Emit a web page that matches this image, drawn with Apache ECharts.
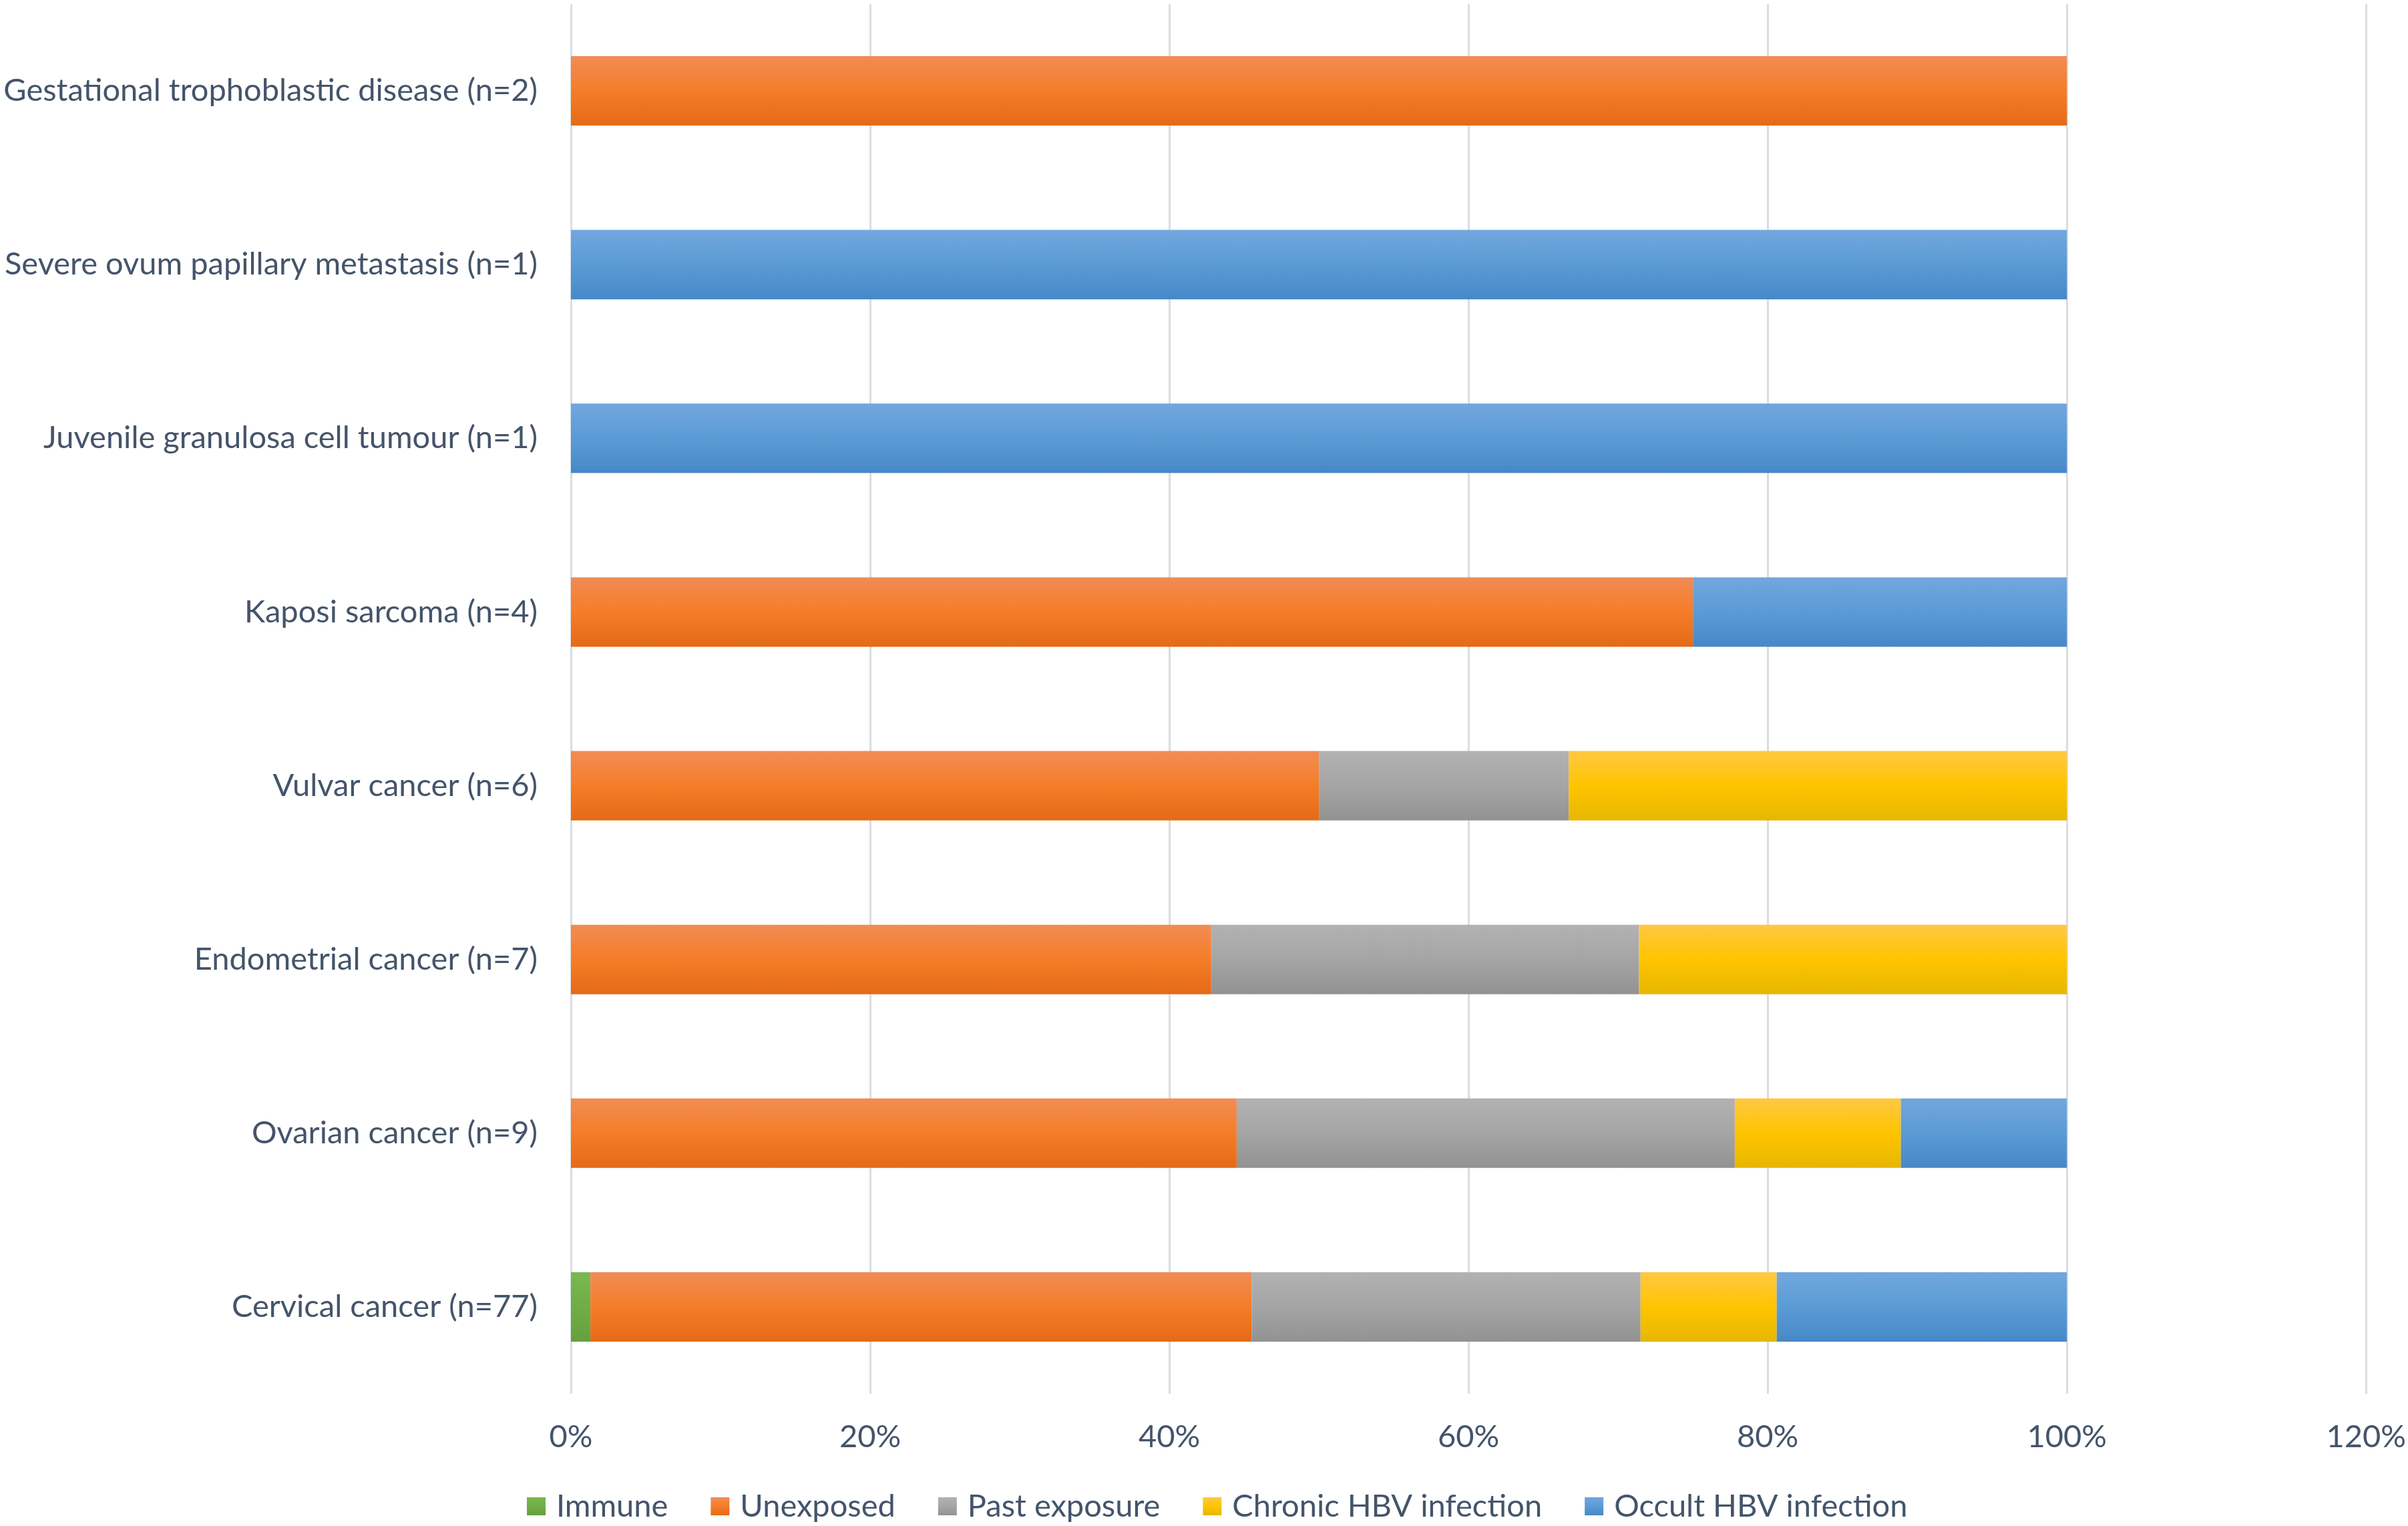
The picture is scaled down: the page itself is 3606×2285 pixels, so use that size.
<!DOCTYPE html>
<html>
<head>
<meta charset="utf-8">
<title>HBV status by cancer type</title>
<script src="https://cdn.jsdelivr.net/npm/echarts@6/dist/echarts.min.js"></script>
<style>
    html, body { margin: 0; padding: 0; background: #fff; }
    #main { width: 3606px; height: 2285px; }
</style>
</head>
<body>
<div id="main"></div>
<script>
// categories, bottom to top
var categories = [
    'Cervical cancer (n=77)',
    'Ovarian cancer (n=9)',
    'Endometrial cancer (n=7)',
    'Vulvar cancer (n=6)',
    'Kaposi sarcoma (n=4)',
    'Juvenile granulosa cell tumour (n=1)',
    'Severe ovum papillary metastasis (n=1)',
    'Gestational trophoblastic disease (n=2)'
];

// share of each group, in percent
var immune      = [1.3, 0, 0, 0, 0, 0, 0, 0];
var unexposed   = [44.2, 44.5, 42.8, 50, 75, 0, 0, 100];
var pastExpo    = [26.0, 33.3, 28.6, 16.7, 0, 0, 0, 0];
var chronicHbv  = [9.1, 11.1, 28.6, 33.3, 0, 0, 0, 0];
var occultHbv   = [19.4, 11.1, 0, 0, 25, 100, 100, 0];

var seriesNames = ['Immune', 'Unexposed', 'Past exposure', 'Chronic HBV infection', 'Occult HBV infection'];
var seriesData = [immune, unexposed, pastExpo, chronicHbv, occultHbv];

// top / middle / bottom of the gradient for each series
var shades = [
    ['#7AB852', '#70AD47', '#66A03E'],
    ['#F18C55', '#F57D28', '#E46A17'],
    ['#B2B2B2', '#A5A5A5', '#929292'],
    ['#FFC843', '#FFC400', '#E6B700'],
    ['#72A7DE', '#5B9BD5', '#4688C8']
];

var textColor = '#44546A';
var fontName = 'Lato';

function grad(c) {
    return new echarts.graphic.LinearGradient(0, 0, 0, 1, [
        { offset: 0, color: c[0] },
        { offset: 0.5, color: c[1] },
        { offset: 1, color: c[2] }
    ]);
}

var myChart = echarts.init(document.getElementById('main'));

var series = [];
for (var i = 0; i < seriesNames.length; i++) {
    series.push({
        name: seriesNames[i],
        type: 'bar',
        stack: 'total',
        barWidth: 104,
        itemStyle: { color: grad(shades[i]) },
        data: seriesData[i]
    });
}

var option = {
    backgroundColor: '#ffffff',
    animation: false,
    textStyle: { fontFamily: fontName },
    grid: {
        left: 855,
        right: 61,
        top: 6,
        bottom: 198,
        containLabel: false
    },
    legend: {
        data: seriesNames,
        left: 784,
        top: 2227,
        icon: 'rect',
        itemWidth: 28,
        itemHeight: 27,
        itemGap: 64,
        textStyle: {
            color: textColor,
            fontSize: 47,
            fontFamily: fontName,
            padding: [0, 0, 0, 11]
        }
    },
    xAxis: {
        type: 'value',
        min: 0,
        max: 120,
        interval: 20,
        axisLine: { show: false },
        axisTick: { show: false },
        axisLabel: {
            formatter: '{value}%',
            color: textColor,
            fontSize: 47,
            fontFamily: fontName,
            margin: 41
        },
        splitLine: {
            show: true,
            lineStyle: { color: '#D9DDE3', width: 3 }
        }
    },
    yAxis: {
        type: 'category',
        data: categories,
        axisLine: { show: false },
        axisTick: { show: false },
        axisLabel: {
            color: textColor,
            fontSize: 47,
            fontFamily: fontName,
            margin: 50
        }
    },
    series: series
};

myChart.setOption(option);
window.onresize = myChart.resize;
</script>
</body>
</html>
